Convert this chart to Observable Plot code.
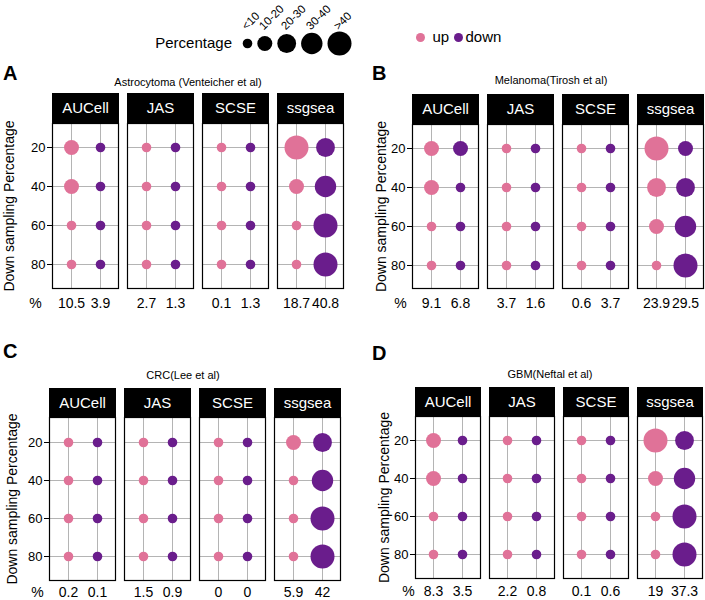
<!DOCTYPE html>
<html>
<head>
<meta charset="utf-8">
<script src="https://cdn.jsdelivr.net/npm/d3@7"></script>
<script src="https://cdn.jsdelivr.net/npm/@observablehq/plot@0.6"></script>
<style>
  html, body { margin: 0; padding: 0; background: #fff; }
  #chart { position: relative; width: 705px; height: 600px; overflow: hidden; background: #fff; }
  #chart svg { position: absolute; }
</style>
</head>
<body>
<div id="chart"></div>
<script>
// ---------- data ----------
const methods = ["AUCell", "JAS", "SCSE", "ssgsea"];
const directions = ["up", "down"];
const rows = [20, 40, 60, 80];
const binLabels = ["<10", "10-20", "20-30", "30-40", ">40"];
const binIndex = [1, 2, 3, 4, 5];

// size bins (1..5 -> binLabels), per method, rows 20/40/60/80
const astroUpBins   = [[2,2,1,1],[1,1,1,1],[1,1,1,1],[5,2,1,1]];
const astroDownBins = [[1,1,1,1],[1,1,1,1],[1,1,1,1],[3,4,5,5]];
const astroUpPct    = [10.5, 2.7, 0.1, 18.7];
const astroDownPct  = [3.9, 1.3, 1.3, 40.8];

const melaUpBins    = [[2,2,1,1],[1,1,1,1],[1,1,1,1],[5,3,2,1]];
const melaDownBins  = [[2,1,1,1],[1,1,1,1],[1,1,1,1],[2,3,4,5]];
const melaUpPct     = [9.1, 3.7, 0.6, 23.9];
const melaDownPct   = [6.8, 1.6, 3.7, 29.5];

const crcUpBins     = [[1,1,1,1],[1,1,1,1],[1,1,1,1],[2,1,1,1]];
const crcDownBins   = [[1,1,1,1],[1,1,1,1],[1,1,1,1],[3,4,5,5]];
const crcUpPct      = [0.2, 1.5, 0, 5.9];
const crcDownPct    = [0.1, 0.9, 0, 42];

const gbmUpBins     = [[2,2,1,1],[1,1,1,1],[1,1,1,1],[5,2,1,1]];
const gbmDownBins   = [[1,1,1,1],[1,1,1,1],[1,1,1,1],[3,4,5,5]];
const gbmUpPct      = [8.3, 2.2, 0.1, 19];
const gbmDownPct    = [3.5, 0.8, 0.6, 37.3];

const panelLetters = ["A", "B", "C", "D"];
const panelTitles = ["Astrocytoma (Venteicher et al)", "Melanoma(Tirosh et al)", "CRC(Lee et al)", "GBM(Neftal et al)"];
const yLabel = "Down sampling Percentage";
const sizeLegendTitle = "Percentage";

// ---------- styles / layout ----------
const FONT = "'Liberation Sans', Arial, Helvetica, sans-serif";
const radii = [4.8, 7.5, 9.4, 10.7, 12];
const dirColors = ["#E07298", "#6A1D8C"];
const gridColor = "#b4b4b4";

const layouts = [
  {left: 0,   width: 350, mL: 50, mR: 5, headerTop: 93,  headerH: 30, plotTop: 123, plotH: 165, pctDx: -17, yLabDx: -43, valDy: 15,
   letterX: 3, letterY: 80, titleX: 188, titleY: 86},
  {left: 350, width: 355, mL: 62, mR: 1, headerTop: 94,  headerH: 30, plotTop: 124, plotH: 164, pctDx: -12, yLabDx: -31, valDy: 15,
   letterX: 372, letterY: 80, titleX: 551, titleY: 84},
  {left: 0,   width: 350, mL: 49, mR: 9, headerTop: 388, headerH: 29, plotTop: 417, plotH: 163, pctDx: -12, yLabDx: -37, valDy: 12,
   letterX: 3, letterY: 358, titleX: 183, titleY: 379},
  {left: 350, width: 355, mL: 63, mR: 1, headerTop: 387, headerH: 29, plotTop: 416, plotH: 162, pctDx: -7, yLabDx: -31, valDy: 13,
   letterX: 372, letterY: 360, titleX: 550, titleY: 378}
];

const chart = document.getElementById("chart");
const fxOpts = {domain: methods, paddingInner: 0.118, paddingOuter: 0, axis: null, label: null};
const baseStyle = {fontFamily: FONT, fontSize: "13px", color: "black", background: "none", overflow: "visible"};

function place(el, left, top) {
  el.style.left = left + "px";
  el.style.top = top + "px";
  chart.appendChild(el);
}

function drawPanel(cfg, upBins, downBins, upPct, downPct) {
  const cells = [];
  methods.forEach((m, i) => rows.forEach((r, j) => {
    cells.push({method: m, dir: "up", row: r, bin: upBins[i][j]});
    cells.push({method: m, dir: "down", row: r, bin: downBins[i][j]});
  }));
  const pct = methods.flatMap((m, i) => [
    {method: m, dir: "up", value: upPct[i]},
    {method: m, dir: "down", value: downPct[i]}
  ]);

  // facet header strips
  const header = Plot.plot({
    width: cfg.width, height: cfg.headerH,
    marginLeft: cfg.mL, marginRight: cfg.mR, marginTop: 0, marginBottom: 0,
    style: baseStyle,
    fx: fxOpts,
    marks: [
      Plot.frame({fill: "black", stroke: "black"}),
      Plot.text(methods, {fx: d => d, text: d => d, fill: "white", fontSize: 15, frameAnchor: "middle",
        textAnchor: "middle", lineAnchor: "middle"})
    ]
  });
  place(header, cfg.left, cfg.headerTop);

  const main = Plot.plot({
    width: cfg.width, height: 1 + cfg.plotH + 30,
    marginLeft: cfg.mL, marginRight: cfg.mR, marginTop: 1, marginBottom: 30,
    style: baseStyle,
    fx: fxOpts,
    x: {type: "point", domain: directions, padding: 0.62, axis: null},
    y: {type: "point", domain: rows, padding: 0.6},
    r: {type: "linear", domain: binIndex, range: radii},
    color: {domain: directions, range: dirColors},
    marks: [
      Plot.ruleX(directions, {x: d => d, stroke: gridColor, strokeWidth: 1}),
      Plot.ruleY(rows, {y: d => d, stroke: gridColor, strokeWidth: 1}),
      Plot.frame({stroke: "black", strokeWidth: 1.2}),
      Plot.dot(cells, {fx: "method", x: "dir", y: "row", r: "bin", fill: "dir", stroke: null}),
      Plot.axisY({tickSize: 5, tickPadding: 2, label: null, fontSize: 13}),
      Plot.text(pct, {fx: "method", x: "dir", text: d => String(d.value), frameAnchor: "bottom", dy: cfg.valDy,
        textAnchor: "middle", lineAnchor: "middle", fontSize: 14}),
      Plot.text(["%"], {fx: () => methods[0], text: d => d, frameAnchor: "bottom-left", dx: cfg.pctDx, dy: cfg.valDy,
        textAnchor: "middle", lineAnchor: "middle", fontSize: 14}),
      Plot.text([yLabel], {fx: () => methods[0], text: d => d, frameAnchor: "left", rotate: -90, dx: cfg.yLabDx,
        textAnchor: "middle", lineAnchor: "middle", fontSize: 14})
    ]
  });
  place(main, cfg.left, cfg.plotTop - 1);
}

drawPanel(layouts[0], astroUpBins, astroDownBins, astroUpPct, astroDownPct);
drawPanel(layouts[1], melaUpBins, melaDownBins, melaUpPct, melaDownPct);
drawPanel(layouts[2], crcUpBins, crcDownBins, crcUpPct, crcDownPct);
drawPanel(layouts[3], gbmUpBins, gbmDownBins, gbmUpPct, gbmDownPct);

// ---------- size legend ----------
const legendGap = 5;
const legendPos = [];
radii.forEach((r, i) => legendPos.push(i === 0 ? 0 : legendPos[i - 1] + radii[i - 1] + r + legendGap));
const legendItems = binLabels.map((label, i) => ({label, bin: binIndex[i], pos: legendPos[i]}));
const lastPos = legendPos[legendPos.length - 1];
const sizeLegend = Plot.plot({
  width: 150, height: 60,
  marginLeft: 17, marginRight: 150 - 17 - lastPos, marginTop: 26, marginBottom: 0,
  style: baseStyle,
  x: {type: "linear", domain: [0, lastPos], axis: null},
  r: {type: "linear", domain: binIndex, range: radii},
  marks: [
    Plot.dot(legendItems, {x: "pos", r: "bin", fill: "black", stroke: null}),
    Plot.text(legendItems, {x: "pos", text: "label", frameAnchor: "top", rotate: -45, textAnchor: "start",
      lineAnchor: "bottom", dx: -1, dy: 4, fontSize: 11.5})
  ]
});
place(sizeLegend, 230, 0);

// ---------- colour legend ----------
const colorItems = directions.map(d => ({dir: d}));
const colorLegend = Plot.plot({
  width: 110, height: 40,
  marginLeft: 10, marginRight: 62, marginTop: 0, marginBottom: 0,
  style: baseStyle,
  x: {type: "point", domain: directions, padding: 0, axis: null},
  color: {domain: directions, range: dirColors},
  marks: [
    Plot.dot(colorItems, {x: "dir", r: 4.5, fill: "dir", stroke: null}),
    Plot.text(colorItems.filter(d => d.dir === "up"), {x: "dir", text: "dir", textAnchor: "start", dx: 12, fontSize: 15}),
    Plot.text(colorItems.filter(d => d.dir === "down"), {x: "dir", text: "dir", textAnchor: "start", dx: 7, fontSize: 15})
  ]
});
place(colorLegend, 410, 17);

// ---------- overlay text: legend title, panel letters, titles ----------
const overlay = d3.create("svg")
  .attr("width", 705).attr("height", 600)
  .style("left", "0px").style("top", "0px")
  .style("pointer-events", "none")
  .style("font-family", FONT);

overlay.append("text")
  .attr("x", 232).attr("y", 47.5)
  .attr("text-anchor", "end")
  .attr("font-size", 15)
  .text(sizeLegendTitle);

layouts.forEach((cfg, i) => {
  overlay.append("text")
    .attr("x", cfg.letterX).attr("y", cfg.letterY)
    .attr("font-size", 20).attr("font-weight", "bold")
    .text(panelLetters[i]);
  overlay.append("text")
    .attr("x", cfg.titleX).attr("y", cfg.titleY)
    .attr("text-anchor", "middle")
    .attr("font-size", 11)
    .text(panelTitles[i]);
});
chart.appendChild(overlay.node());
</script>
</body>
</html>
